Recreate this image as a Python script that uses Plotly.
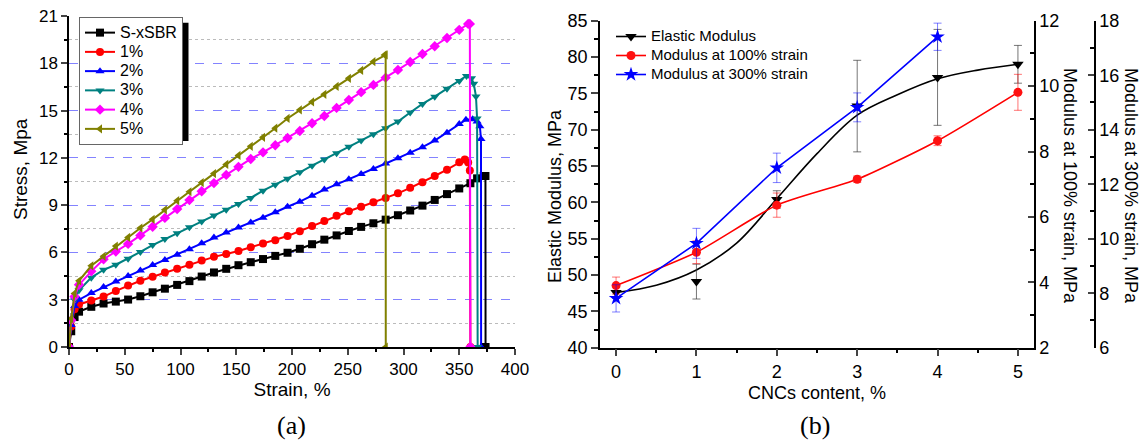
import plotly.graph_objects as go

W, H = 1143, 442

# ---------------- (a) stress-strain data ----------------
strain_grid = [9, 20, 31, 42, 53, 64, 75, 86, 97, 108, 119, 130, 141, 152, 163, 174,
               185, 196, 207, 218, 229, 240, 251, 262, 273, 284, 295, 306, 317, 328, 339, 350]
start_strain = [0, 2, 5]

names = ["S-xSBR", "1%", "2%", "3%", "4%", "5%"]

strain_sxsbr = start_strain + strain_grid + [360, 366, 372, 373.5, 373.6]
stress_sxsbr = [0, 1.0, 1.9,
                2.24, 2.55, 2.76, 2.88, 3.01, 3.22, 3.47, 3.70, 3.94, 4.18, 4.47, 4.73, 4.96, 5.19,
                5.38, 5.58, 5.78, 5.98, 6.23, 6.52, 6.81, 7.08, 7.36, 7.62, 7.85, 8.08, 8.36, 8.66,
                8.97, 9.33, 9.70, 10.06,
                10.39, 10.70, 10.85, 10.85, 0]

strain_1 = start_strain + strain_grid + [355, 358, 359.5, 360]
stress_1 = [0, 1.3, 2.4,
            2.70, 2.95, 3.20, 3.56, 3.90, 4.20, 4.46, 4.72, 4.96, 5.22, 5.48, 5.72, 5.90, 6.09,
            6.33, 6.56, 6.77, 7.04, 7.35, 7.67, 8.00, 8.33, 8.61, 8.90, 9.18, 9.45, 9.75, 10.10,
            10.45, 10.85, 11.25, 11.72,
            11.90, 11.70, 11.20, 0]

strain_2 = start_strain + strain_grid + [356, 362, 366, 368.5, 369.5, 369.6]
stress_2 = [0, 1.4, 2.6,
            3.00, 3.42, 3.80, 4.15, 4.50, 4.85, 5.20, 5.52, 5.85, 6.20, 6.58, 6.94, 7.26, 7.58,
            7.90, 8.20, 8.55, 8.90, 9.22, 9.60, 9.99, 10.32, 10.64, 10.97, 11.30, 11.64, 11.98,
            12.33, 12.68, 13.10, 13.60, 14.15,
            14.42, 14.45, 14.30, 14.00, 13.2, 0]

strain_3 = start_strain + strain_grid + [356.5, 361, 363, 365, 366, 366.5]
stress_3 = [0, 1.6, 3.0,
            3.60, 4.40, 4.90, 5.22, 5.60, 6.03, 6.47, 6.85, 7.22, 7.59, 7.97, 8.34, 8.71, 9.08,
            9.46, 9.92, 10.30, 10.67, 11.08, 11.50, 11.90, 12.30, 12.70, 13.10, 13.50, 13.88,
            14.30, 14.88, 15.42, 15.88, 16.38, 16.88,
            17.20, 17.05, 16.70, 15.90, 14.50, 0]

strain_4 = start_strain + strain_grid + [358, 359.5, 360]
stress_4 = [0, 1.7, 3.2,
            3.95, 4.80, 5.57, 6.06, 6.54, 7.08, 7.63, 8.19, 8.75, 9.32, 9.88, 10.40, 10.92, 11.43,
            11.93, 12.35, 12.80, 13.26, 13.70, 14.20, 14.66, 15.17, 15.67, 16.17, 16.63, 17.09,
            17.58, 18.08, 18.59, 19.08, 19.60, 20.12,
            20.50, 20.50, 0]

strain_5 = start_strain + strain_grid[:25] + [283, 284, 284.1]
stress_5 = [0, 1.8, 3.4,
            4.20, 5.15, 5.75, 6.40, 6.95, 7.55, 8.10, 8.70, 9.28, 9.85, 10.43, 11.00, 11.58, 12.15,
            12.73, 13.30, 13.88, 14.50, 15.04, 15.55, 16.03, 16.53, 17.05, 17.55, 18.10,
            18.53, 18.53, 0]

curve_x = [strain_sxsbr, strain_1, strain_2, strain_3, strain_4, strain_5]
curve_y = [stress_sxsbr, stress_1, stress_2, stress_3, stress_4, stress_5]
colors_a = ["#000000", "#FF0000", "#0000FF", "#008080", "#FF00FF", "#808000"]
symbols_a = ["square", "circle", "triangle-up", "triangle-down", "diamond", "triangle-left"]

x_ticks_a = [0, 50, 100, 150, 200, 250, 300, 350, 400]
y_ticks_a = [0, 3, 6, 9, 12, 15, 18, 21]

# ---------------- (b) modulus data ----------------
cnc = [0, 1, 2, 3, 4, 5]
elastic = [47.6, 49.1, 60.4, 73.25, 77.2, 79.0]
elastic_err = [0.8, 2.4, 1.2, 6.3, 6.6, 2.6]
fit_x = [0, 0.5, 1, 1.5, 2, 2.5, 3, 3.5, 4, 4.5, 5]
fit_elastic = [47.6, 48.6, 50.7, 54.4, 60.5, 66.7, 72.0, 74.8, 77.0, 78.2, 79.0]

mod100 = [3.9, 4.92, 6.36, 7.15, 8.33, 9.81]
mod100_err = [0.26, 0.35, 0.37, 0.1, 0.15, 0.55]

cnc300 = [0, 1, 2, 3, 4]
mod300 = [7.81, 9.83, 12.6, 14.82, 17.41]
mod300_err = [0.5, 0.55, 0.54, 0.53, 0.5]

FONT = "Liberation Sans, Arial, sans-serif"


def big(txt, size):
    return '<span style="font-size:%dpx">%s</span>' % (size, txt)


fig = go.Figure()

for nm, xs, ys, c, s in zip(names, curve_x, curve_y, colors_a, symbols_a):
    fig.add_trace(go.Scatter(
        x=xs, y=ys, name=big(nm, 16), mode="lines+markers",
        line=dict(color=c, width=2),
        marker=dict(symbol=s, size=8, color=c, line=dict(width=0)),
        xaxis="x", yaxis="y", legend="legend"))

# (b) traces
fig.add_trace(go.Scatter(
    x=fit_x, y=fit_elastic, mode="lines", line=dict(color="black", width=1.6, shape="spline"),
    xaxis="x2", yaxis="y2", showlegend=False, hoverinfo="skip"))
fig.add_trace(go.Scatter(
    x=cnc, y=elastic, mode="markers",
    marker=dict(symbol="triangle-down", size=10, color="black"),
    error_y=dict(type="data", array=elastic_err, color="rgba(60,60,60,0.7)", thickness=1, width=4),
    xaxis="x2", yaxis="y2", showlegend=False))
fig.add_trace(go.Scatter(
    x=[None], y=[None], mode="lines+markers", name=big("Elastic Modulus", 15),
    line=dict(color="black", width=1.6),
    marker=dict(symbol="triangle-down", size=10, color="black"),
    xaxis="x2", yaxis="y2", legend="legend2"))
fig.add_trace(go.Scatter(
    x=cnc, y=mod100, mode="lines+markers", name=big("Modulus at 100% strain", 15),
    line=dict(color="#FF0000", width=1.6, shape="spline", smoothing=0.6),
    marker=dict(symbol="circle", size=9, color="#FF1010"),
    error_y=dict(type="data", array=mod100_err, color="rgba(255,0,0,0.55)", thickness=1, width=4),
    xaxis="x2", yaxis="y3", legend="legend2"))
fig.add_trace(go.Scatter(
    x=cnc300, y=mod300, mode="lines+markers", name=big("Modulus at 300% strain", 15),
    line=dict(color="#0000FF", width=1.6),
    marker=dict(symbol="star", size=11, color="#0000FF"),
    error_y=dict(type="data", array=mod300_err, color="rgba(0,0,255,0.5)", thickness=1, width=4),
    xaxis="x2", yaxis="y4", legend="legend2"))

tickfont_a = dict(family=FONT, size=17, color="black")
tickfont_b = dict(family=FONT, size=18, color="black")


def ann(text, x, y, size, angle=0, family=FONT):
    return dict(text=text, xref="paper", yref="paper", x=x/W, y=1-y/H,
                xanchor="center", yanchor="middle", textangle=angle, showarrow=False,
                font=dict(family=family, size=size, color="black"))


fig.update_layout(
    width=W, height=H, margin=dict(l=0, r=0, t=0, b=0, autoexpand=False),
    paper_bgcolor="white", plot_bgcolor="white",
    font=dict(family=FONT, color="black"),
    xaxis=dict(domain=[69/W, 515/W], range=[0, 400], anchor="y", automargin=False,
               tickvals=x_ticks_a, ticks="outside", ticklen=6, tickwidth=1.5,
               showline=True, linecolor="black", linewidth=1.5, showgrid=False, zeroline=False,
               minor=dict(dtick=25, ticks="outside", ticklen=3, tickwidth=1.5, tickcolor="black"),
               tickfont=tickfont_a,
               title=dict(text="Strain, %", font=dict(family=FONT, size=19), standoff=5)),
    yaxis=dict(domain=[1-347/H, 1-16/H], range=[0, 21], anchor="x", automargin=False,
               tickvals=y_ticks_a, ticks="outside", ticklen=6, tickwidth=1.5,
               showline=True, linecolor="black", linewidth=1.5, zeroline=False,
               showgrid=True, gridcolor="rgba(90,90,255,0.75)", griddash="dash", gridwidth=1,
               minor=dict(tickvals=[1.5, 4.5, 7.5, 10.5, 13.5, 16.5, 19.5], ticks="outside",
                          ticklen=3, tickwidth=1.5, tickcolor="black",
                          showgrid=True, gridcolor="rgba(170,170,170,0.8)", griddash="dot", gridwidth=1),
               tickfont=tickfont_a),
    xaxis2=dict(domain=[600/W, 1034/W], range=[-0.2, 5.2], anchor="y2", automargin=False,
                tickvals=cnc, ticks="outside", ticklen=7, tickwidth=1.5,
                showline=True, linecolor="black", linewidth=1.5, showgrid=False, zeroline=False,
                minor=dict(dtick=0.5, ticks="outside", ticklen=4, tickwidth=1.5, tickcolor="black"),
                tickfont=tickfont_b,
                title=dict(text="CNCs content, %", font=dict(family=FONT, size=18), standoff=5)),
    yaxis2=dict(domain=[1-347.7/H, 1-20.7/H], range=[40, 85], anchor="x2", automargin=False,
                tickvals=[40, 45, 50, 55, 60, 65, 70, 75, 80, 85], ticks="outside", ticklen=7, tickwidth=1.5,
                showline=True, linecolor="black", linewidth=1.5, showgrid=False, zeroline=False,
                minor=dict(dtick=2.5, ticks="outside", ticklen=4, tickwidth=1.5, tickcolor="black"),
                tickfont=tickfont_b),
    yaxis3=dict(overlaying="y2", side="right", anchor="x2", range=[2, 12], automargin=False,
                tickvals=[2, 4, 6, 8, 10, 12], ticks="inside", ticklen=6, tickwidth=1.5,
                showline=True, linecolor="black", linewidth=1.5, showgrid=False, zeroline=False,
                minor=dict(dtick=1, ticks="inside", ticklen=4, tickwidth=1.5, tickcolor="black"),
                tickfont=tickfont_b),
    yaxis4=dict(overlaying="y2", side="right", anchor="free", position=1095/W, range=[6, 18],
                automargin=False,
                tickvals=[6, 8, 10, 12, 14, 16, 18], ticks="inside", ticklen=6, tickwidth=1.5,
                showline=True, linecolor="black", linewidth=1.5, showgrid=False, zeroline=False,
                minor=dict(dtick=1, ticks="inside", ticklen=4, tickwidth=1.5, tickcolor="black"),
                tickfont=tickfont_b),
    legend=dict(x=79/W, y=1-17/H, xanchor="left", yanchor="top",
                bgcolor="white", bordercolor="#666", borderwidth=1,
                font=dict(family=FONT, size=12.5, color="black"), tracegroupgap=0),
    legend2=dict(x=611/W, y=1-22/H, xanchor="left", yanchor="top",
                 bgcolor="rgba(0,0,0,0)", borderwidth=0,
                 font=dict(family=FONT, size=12.3, color="black"), tracegroupgap=0),
    shapes=[dict(type="rect", xref="paper", yref="paper", layer="above",
                 x0=84/W, x1=188.5/W, y0=1-141/H, y1=1-22.7/H,
                 fillcolor="black", line=dict(width=0))],
    annotations=[
        ann("Stress, Mpa", 20, 169, 19, -90),
        ann("Elastic Modulus, MPa", 555, 196, 18, -90),
        ann("Modulus at 100% strain, MPa", 1070, 186, 18, 90),
        ann("Modulus at 300% strain, MPa", 1131, 186, 18, 90),
        ann("(a)", 291, 425, 26, 0, "Liberation Serif, Times New Roman, serif"),
        ann("(b)", 815, 425, 26, 0, "Liberation Serif, Times New Roman, serif"),
    ],
)

fig.write_html("out.html")
